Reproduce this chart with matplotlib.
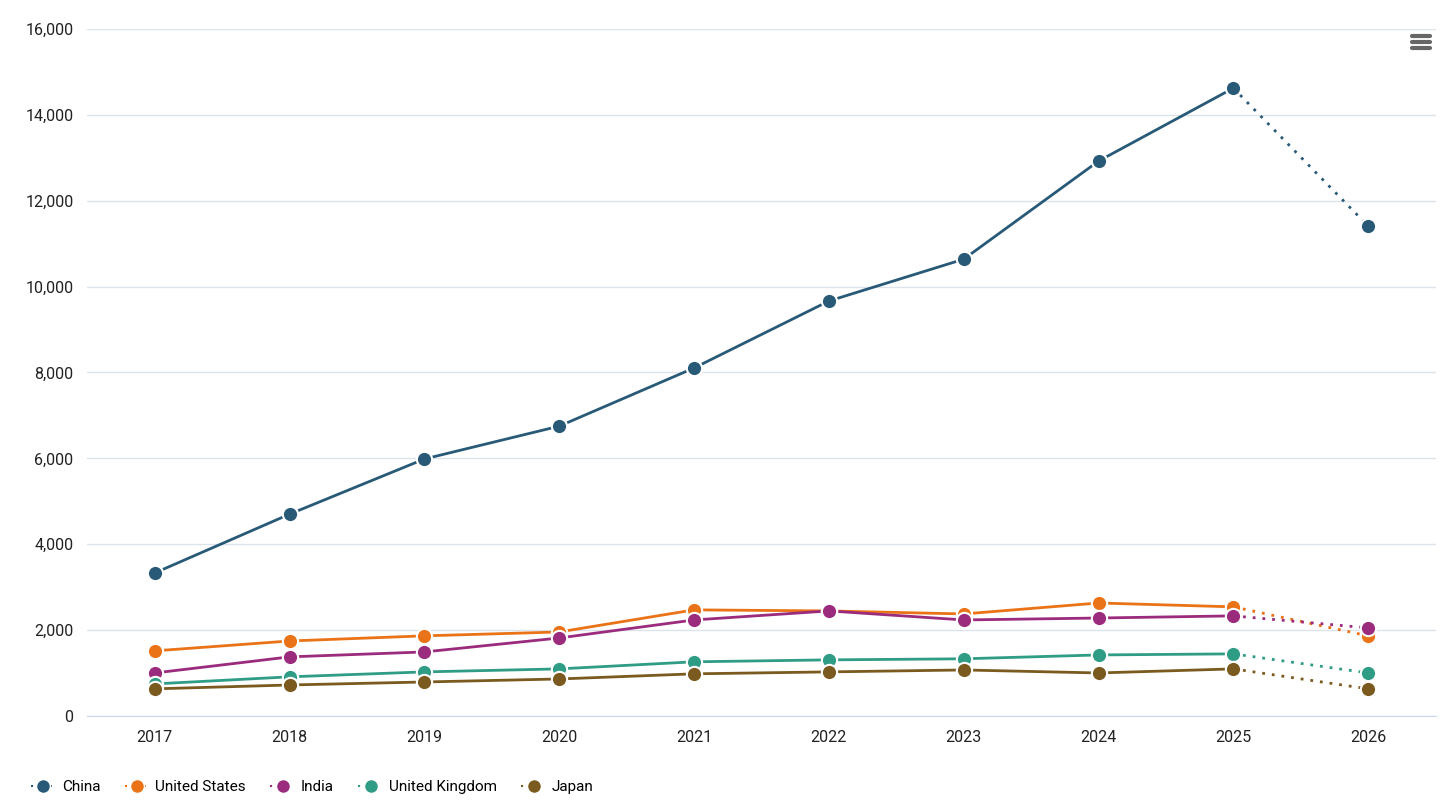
import matplotlib
matplotlib.use("Agg")
from matplotlib import pyplot as plt
from matplotlib.lines import Line2D
from matplotlib.ticker import FuncFormatter

years = [2017, 2018, 2019, 2020, 2021, 2022, 2023, 2024, 2025, 2026]
china = [3330, 4700, 5985, 6750, 8105, 9665, 10640, 12925, 14625, 11410]
united_states = [1515, 1745, 1865, 1955, 2470, 2445, 2375, 2630, 2540, 1865]
india = [1000, 1375, 1490, 1815, 2235, 2445, 2235, 2280, 2330, 2050]
united_kingdom = [745, 910, 1025, 1095, 1260, 1305, 1330, 1420, 1445, 1000]
japan = [630, 720, 790, 860, 980, 1025, 1070, 1000, 1095, 630]

series = [("China", china, "#285a78"),
          ("United States", united_states, "#ea7317"),
          ("India", india, "#9b2b7c"),
          ("United Kingdom", united_kingdom, "#2f9c85"),
          ("Japan", japan, "#7a5a1f")]

plt.rcParams['font.family'] = ['Roboto', 'DejaVu Sans']
fig = plt.figure(figsize=(14.56, 8.08), dpi=100)
ax = fig.add_axes([0.06, 0.114, 0.926, 0.85])
x = list(range(len(years)))

for nom, vals, coul in series:
    ax.plot(x[:-1], vals[:-1], color=coul, lw=2, zorder=3)
    ax.plot(x[-2:], vals[-2:], color=coul, lw=2, ls=(0, (1, 2.5)), zorder=3)
    ax.plot(x, vals, ls='none', marker='o', ms=11, mfc=coul, mec='white',
            mew=1.5, zorder=4)

ax.set_xlim(-0.5, len(years) - 0.5)
ax.set_ylim(0, 16000)
ax.set_yticks(range(0, 16001, 2000))
ax.yaxis.set_major_formatter(FuncFormatter(lambda v, p: format(int(v), ',')))
ax.set_xticks(x)
ax.set_xticklabels([str(a) for a in years])
ax.grid(axis='y', color='#dde3ea', lw=1)
ax.set_axisbelow(True)
for s in ['top', 'right', 'left']:
    ax.spines[s].set_visible(False)
ax.spines['bottom'].set_color('#ccd6eb')
ax.tick_params(axis='both', length=0, labelsize=11.5, colors='#222222', pad=10)

poignees = [Line2D([0], [0], color=c, ls=(0, (1, 2)), lw=1.5, marker='o',
                   ms=10, mfc=c, mec='white') for n, v, c in series]
fig.legend(poignees, [n for n, v, c in series], loc='lower left',
           bbox_to_anchor=(0.012, 0.0), ncol=5, frameon=False, fontsize=11,
           handlelength=1.6, handletextpad=0.4, columnspacing=1.6)

# icone menu
for yy in [0.955, 0.948, 0.941]:
    fig.add_artist(Line2D([0.970, 0.982], [yy, yy], color='#666666', lw=3,
                          solid_capstyle='round'))

fig.savefig("out.png", dpi=100)
